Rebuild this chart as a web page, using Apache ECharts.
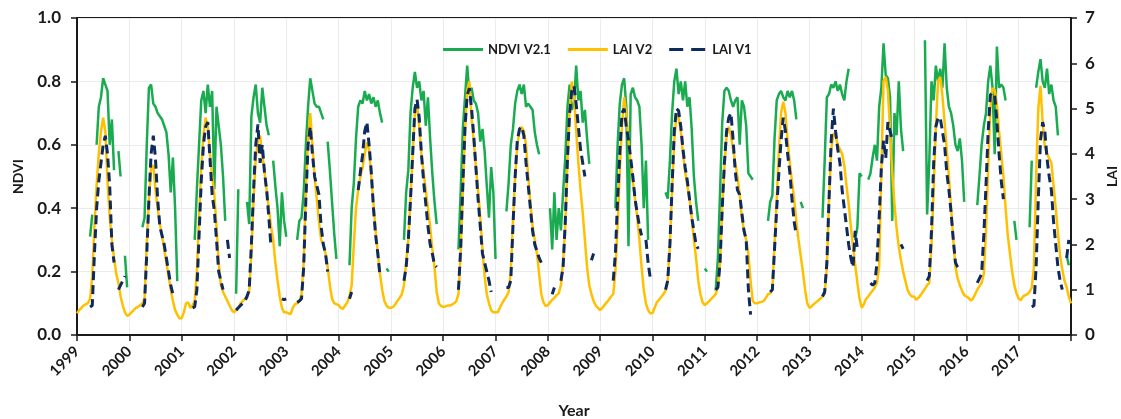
<!DOCTYPE html>
<html>
<head>
<meta charset="utf-8">
<title>NDVI and LAI time series, 1999–2017</title>
<script src="https://cdn.jsdelivr.net/npm/echarts@6/dist/echarts.min.js"></script>
<style>
  html, body { margin: 0; padding: 0; background: #ffffff; }
  #chart { width: 1121px; height: 419px; }
</style>
</head>
<body>
<div id="chart"></div>
<script>
// Semi-monthly samples (24 per year); null marks a missing retrieval.
const _ = null;
const years = [1999, 2000, 2001, 2002, 2003, 2004, 2005, 2006, 2007, 2008,
               2009, 2010, 2011, 2012, 2013, 2014, 2015, 2016, 2017];
const stepsPerYear = 24;

// NDVI V2.1 (left axis)
const ndviV21 = [
  [_,_,_,_,_,_,0.31,0.38,_,0.60,0.72,0.75,0.81,0.79,0.77,0.60,0.68,0.52,_,0.58,0.50,_,0.25,0.15],
  [_,_,_,_,_,_,0.34,0.37,0.60,0.78,0.79,0.73,0.72,0.70,0.69,0.68,0.66,0.64,0.57,0.45,0.56,0.40,0.17,_],
  [_,_,_,_,_,_,0.30,0.46,0.60,0.74,0.77,0.70,0.79,0.72,0.77,0.46,0.72,0.66,0.60,0.50,0.36,_,_,_],
  [_,0.13,0.46,_,_,_,0.42,0.35,0.69,0.75,0.79,0.70,0.67,0.78,0.72,0.66,0.63,_,0.55,0.47,0.40,0.28,0.45,0.36],
  [0.31,_,_,_,_,0.30,0.36,0.37,0.45,0.60,0.72,0.81,0.77,0.73,0.72,0.72,0.70,0.68,_,0.61,0.52,0.42,0.32,0.24],
  [_,_,_,_,_,0.22,0.40,0.48,0.62,0.72,0.74,0.73,0.77,0.74,0.76,0.73,0.75,0.72,0.74,0.70,0.67,_,0.21,0.20],
  [_,_,_,_,_,_,0.30,0.45,0.52,0.70,0.78,0.83,0.78,0.80,0.74,0.77,0.66,0.75,0.62,0.51,0.42,0.35,_,_],
  [_,_,_,_,_,_,_,0.27,0.45,0.65,0.75,0.85,0.76,0.78,0.74,0.73,0.70,0.61,0.65,0.58,0.47,0.37,0.53,0.45],
  [0.24,_,_,_,_,0.39,0.48,0.60,0.65,0.73,0.77,0.79,0.76,0.79,0.72,0.73,0.72,0.71,0.64,0.60,0.57,_,_,_],
  [_,0.40,0.27,0.45,0.30,0.40,0.33,0.45,0.56,0.72,0.79,0.71,0.73,0.85,0.74,0.77,0.67,0.71,0.62,0.54,_,_,_,_],
  [_,_,_,_,_,_,_,0.40,0.60,0.73,0.79,0.81,0.72,0.28,0.76,0.78,0.75,0.74,0.72,0.60,0.40,0.55,0.30,_],
  [_,_,_,_,_,_,0.45,0.43,0.55,0.70,0.80,0.84,0.76,0.80,0.74,0.80,0.72,0.75,0.65,0.50,0.42,0.36,_,_],
  [0.21,0.20,_,_,_,0.14,0.24,0.45,0.67,0.77,0.78,0.77,0.74,0.72,0.74,0.75,0.60,0.74,0.72,0.66,0.51,0.50,0.49,_],
  [_,_,_,_,_,0.36,0.42,0.44,0.62,0.74,0.76,0.77,0.75,0.74,0.77,0.75,0.77,0.74,0.68,_,0.42,0.40,_,_],
  [_,_,_,_,_,_,0.37,0.55,0.75,0.76,0.79,0.78,0.80,0.77,0.79,0.76,0.74,0.80,0.84,_,_,0.30,0.34,0.51],
  [0.50,_,_,0.49,0.51,0.56,0.60,0.55,0.72,0.78,0.92,0.82,0.81,0.75,0.36,0.70,0.63,0.80,0.65,0.58,_,_,_,_],
  [_,_,_,_,_,0.93,0.38,0.55,0.80,0.74,0.85,0.80,0.84,0.78,0.92,0.78,0.72,0.70,0.66,0.60,0.58,0.62,0.55,0.42],
  [_,_,_,_,_,0.41,0.50,0.60,0.66,0.70,0.80,0.85,0.78,0.57,0.91,0.78,0.79,0.78,0.74,_,_,_,0.36,0.30],
  [_,_,_,_,_,0.34,0.55,_,0.78,0.83,0.87,0.80,0.78,0.84,0.76,0.79,0.74,0.72,0.63,_,_,_,0.25,0.22]
];
const ndviV21End = _;

// LAI V2 (right axis)
const laiV2 = [
  [0.48,0.55,0.6,0.65,0.68,0.7,0.8,1.3,2.4,3.3,4.0,4.5,4.8,4.5,3.4,2.6,2.1,1.7,1.35,1.15,0.85,0.65,0.5,0.42],
  [0.45,0.5,0.55,0.6,0.62,0.66,0.7,0.8,2.0,3.0,3.7,3.75,3.2,2.8,2.45,2.2,1.9,1.6,1.3,1.0,0.75,0.55,0.45,0.37],
  [0.37,0.5,0.7,0.72,0.6,0.65,0.75,1.4,2.6,3.7,4.4,4.8,4.6,4.0,3.5,3.1,2.4,1.6,1.1,0.95,0.85,0.75,0.65,0.55],
  [0.5,0.55,0.6,0.7,0.75,0.8,0.85,0.95,1.8,3.0,3.9,4.3,4.4,4.0,3.6,3.2,2.8,2.4,2.1,1.6,1.2,0.85,0.6,0.5],
  [0.5,0.48,0.46,0.6,0.68,0.7,0.75,0.9,1.6,3.2,4.3,4.9,4.2,3.5,3.0,2.5,2.1,2.0,1.8,1.5,1.1,0.8,0.7,0.68],
  [0.66,0.6,0.58,0.65,0.72,0.85,1.1,2.0,2.8,3.2,3.5,3.7,4.0,4.25,4.1,3.5,2.9,2.3,1.8,1.35,1.0,0.75,0.65,0.6],
  [0.6,0.62,0.68,0.75,0.82,0.9,1.1,1.6,2.1,3.0,4.0,4.9,5.1,4.6,4.0,3.6,3.2,2.8,2.4,1.9,1.5,0.95,0.7,0.64],
  [0.62,0.63,0.65,0.65,0.67,0.7,0.75,0.9,1.8,3.2,4.5,5.4,5.6,4.8,4.3,3.7,3.2,2.6,1.9,1.3,0.9,0.7,0.55,0.5],
  [0.5,0.5,0.6,0.7,0.78,0.85,0.95,1.4,2.5,3.5,4.2,4.5,4.6,4.5,4.2,3.5,2.9,2.4,2.1,1.8,1.35,0.9,0.72,0.64],
  [0.66,0.72,0.78,0.82,0.88,0.92,1.1,1.6,2.4,3.8,5.0,5.6,5.3,4.5,3.8,3.2,2.7,2.1,1.5,1.1,0.9,0.75,0.65,0.6],
  [0.55,0.6,0.66,0.72,0.78,0.85,0.9,1.4,2.4,3.6,4.6,5.25,4.9,4.3,3.8,3.4,3.0,2.6,2.1,1.5,1.0,0.7,0.55,0.48],
  [0.48,0.6,0.72,0.78,0.84,0.9,0.98,1.2,2.0,3.2,4.3,4.85,4.8,4.5,4.0,3.6,3.3,3.0,2.6,2.1,1.7,1.2,0.9,0.72],
  [0.66,0.7,0.75,0.8,0.85,0.9,1.05,1.6,2.8,3.7,4.4,4.6,4.4,4.1,3.8,3.5,3.1,2.6,2.3,2.1,1.8,1.2,0.75,0.7],
  [0.7,0.72,0.73,0.75,0.82,0.9,0.92,1.0,2.0,3.0,4.1,4.9,5.15,4.9,4.3,3.8,3.4,3.0,2.5,2.1,1.75,1.4,1.0,0.7],
  [0.6,0.63,0.68,0.72,0.76,0.8,0.85,0.92,1.5,3.0,4.1,4.45,4.4,4.2,4.1,4.0,3.75,3.3,2.9,2.4,1.95,1.55,1.15,0.8],
  [0.6,0.68,0.8,0.85,0.92,0.98,1.05,1.15,1.5,3.6,5.6,5.7,5.4,4.5,3.6,2.9,2.35,1.95,1.65,1.4,1.2,1.0,0.9,0.85],
  [0.85,0.78,0.82,0.88,0.95,1.02,1.1,1.15,2.0,3.2,4.6,5.6,5.7,5.3,4.7,4.1,3.5,2.8,2.1,1.5,1.25,1.1,0.98,0.88],
  [0.85,0.82,0.76,0.8,0.9,1.0,1.08,1.15,1.35,2.3,3.7,5.0,5.45,5.4,5.1,4.5,4.0,3.5,2.8,2.2,1.8,1.4,1.1,0.92],
  [0.8,0.77,0.85,0.88,0.9,0.95,1.05,1.5,3.5,5.0,5.5,4.7,4.15,4.0,3.9,3.8,3.3,2.8,2.25,1.75,1.45,1.2,1.05,0.85]
];
const laiV2End = 0.7;

// LAI V1 (right axis)
const laiV1 = [
  [_,_,_,_,_,_,0.62,0.65,1.8,2.8,3.4,3.8,4.2,4.4,4.0,3.3,2.0,1.6,_,1.0,1.1,1.2,1.3,_],
  [_,_,_,_,_,_,0.62,0.7,1.8,3.0,4.0,4.4,3.9,3.0,2.4,2.2,2.0,1.7,1.4,1.1,0.9,_,_,_],
  [_,_,_,_,_,0.6,0.62,1.0,2.2,3.4,4.2,4.6,4.7,3.9,3.1,2.75,2.1,1.4,1.2,1.0,_,2.1,1.7,_],
  [_,0.55,0.6,0.65,0.7,0.75,0.85,1.0,2.0,3.2,4.2,4.65,3.8,4.2,3.6,3.2,2.6,1.95,_,_,_,_,0.8,0.78],
  [0.8,_,_,_,_,0.72,0.75,0.8,1.5,3.0,4.2,4.6,4.0,3.5,3.3,3.1,2.4,2.0,1.8,1.4,_,_,_,_],
  [_,_,_,_,_,0.8,0.95,_,_,3.2,3.6,3.97,4.5,4.7,4.2,3.6,2.8,2.2,1.8,1.3,_,_,_,_],
  [_,_,_,_,_,_,1.2,1.5,2.1,3.0,4.0,5.0,5.2,4.8,4.0,3.4,2.9,2.4,2.0,1.8,1.55,1.5,_,_],
  [_,_,_,_,_,_,_,1.0,1.9,3.3,4.6,5.3,5.45,5.0,4.4,3.7,3.0,2.4,1.8,1.6,1.4,1.2,0.95,_],
  [_,_,_,_,_,1.05,1.05,1.2,2.4,3.5,4.3,4.55,4.6,4.4,3.8,3.3,2.8,2.3,2.0,1.85,1.7,1.6,_,_],
  [_,_,0.9,1.05,_,_,1.2,1.5,2.5,3.9,4.9,5.4,5.5,5.1,4.6,4.1,3.8,3.5,_,_,1.65,1.8,_,_],
  [_,_,_,_,_,_,1.2,1.8,3.0,4.0,4.9,5.0,4.6,4.3,3.9,3.5,3.0,2.7,2.4,2.2,_,2.1,1.6,1.25],
  [_,_,_,_,_,_,1.0,1.2,2.0,3.3,4.5,5.0,4.95,4.6,4.1,3.7,3.4,3.0,2.6,2.3,2.0,1.9,_,_],
  [_,_,_,_,_,1.0,1.05,1.6,2.8,3.8,4.5,4.8,4.9,4.3,3.6,3.2,3.1,2.7,2.3,2.1,1.0,0.45,_,_],
  [_,_,_,_,_,_,0.95,1.0,1.9,2.8,3.6,4.3,4.8,4.5,4.0,3.6,3.0,2.5,2.2,_,_,_,_,_],
  [_,_,_,_,_,_,0.85,0.95,1.6,3.0,4.3,5.0,4.5,4.1,3.8,3.2,2.8,2.4,2.0,1.7,1.5,2.3,1.9,_],
  [_,_,_,_,1.15,1.1,1.15,1.6,2.6,3.7,4.3,3.9,4.7,4.5,4.3,_,_,_,2.0,1.9,_,_,_,_],
  [_,_,_,_,_,_,1.2,1.3,2.3,3.8,4.6,4.8,4.8,4.5,4.2,3.6,3.2,2.7,2.1,1.6,1.5,1.45,_,_],
  [_,_,_,_,_,1.15,1.25,1.35,2.2,3.3,4.5,5.3,5.35,5.3,4.7,4.0,3.4,3.0,_,_,_,_,_,_],
  [_,_,_,_,_,_,0.62,0.65,1.5,3.0,4.3,4.7,4.5,3.9,3.5,3.2,2.5,2.0,1.5,1.2,1.0,_,1.7,2.1]
];
const laiV1End = _;

// Turn the per-year rows into [decimal year, value] pairs.
function toPoints(rows, endValue) {
  const pts = [];
  rows.forEach(function (row, yi) {
    row.forEach(function (v, k) {
      pts.push([years[yi] + k / stepsPerYear, v]);
    });
  });
  pts.push([years[years.length - 1] + 1, endValue]);
  return pts;
}

const textColor = '#1a1a1a';
const fontFamily = 'Lato, "Open Sans", "DejaVu Sans", sans-serif';
const gridColor = '#ebebeb';
const ndviColor = '#1aab50';
const laiV2Color = '#ffc000';
const laiV1Color = '#0e2a5e';

// Legend keys: a solid bar for the solid lines, two short bars for the dashed one.
const solidKey = 'path://M0,0H40V3H0Z';
const dashedKey = 'path://M0,0H14V3H0Z M22,0H36V3H22Z';

const chart = echarts.init(document.getElementById('chart'), null, { renderer: 'canvas' });

chart.setOption({
  animation: false,
  backgroundColor: '#ffffff',
  textStyle: { fontFamily: fontFamily, color: textColor },
  grid: {
    left: 77, right: 50, top: 18, bottom: 84,
    outerBoundsMode: 'none', containLabel: false,
    show: true, borderColor: textColor, borderWidth: 2, backgroundColor: 'transparent'
  },
  legend: {
    left: 438, top: 38,
    itemWidth: 40, itemHeight: 3, itemGap: 17,
    textStyle: { fontFamily: fontFamily, fontWeight: 'bold', fontSize: 13, color: textColor },
    data: [
      { name: 'NDVI V2.1', icon: solidKey, itemStyle: { color: ndviColor } },
      { name: 'LAI V2', icon: solidKey, itemStyle: { color: laiV2Color } },
      { name: 'LAI V1', icon: dashedKey, itemStyle: { color: laiV1Color } }
    ]
  },
  xAxis: {
    type: 'value',
    min: 1999, max: 2018, interval: 1,
    name: 'Year', nameLocation: 'middle', nameGap: 68,
    nameTextStyle: { fontFamily: fontFamily, fontWeight: 'bold', fontSize: 16, color: textColor },
    axisLine: { show: true, lineStyle: { color: textColor, width: 2 } },
    axisTick: { show: true, length: 6, lineStyle: { color: textColor, width: 1.5 } },
    axisLabel: {
      rotate: 45, margin: 14,
      fontFamily: fontFamily, fontWeight: 'bold', fontSize: 15, color: textColor,
      formatter: function (v) { return v < 2018 ? String(v) : ''; }
    },
    splitLine: { show: true, lineStyle: { color: gridColor, width: 1 } }
  },
  yAxis: [
    {
      type: 'value', min: 0, max: 1, interval: 0.2,
      name: 'NDVI', nameLocation: 'middle', nameGap: 52, nameRotate: 90,
      nameTextStyle: { fontFamily: fontFamily, fontWeight: 'bold', fontSize: 14, color: textColor },
      axisLine: { show: true, lineStyle: { color: textColor, width: 2 } },
      axisTick: { show: true, length: 6, lineStyle: { color: textColor, width: 1.5 } },
      axisLabel: {
        margin: 16, fontFamily: fontFamily, fontWeight: 'bold', fontSize: 17, color: textColor,
        formatter: function (v) { return v.toFixed(1); }
      },
      splitLine: { show: true, lineStyle: { color: gridColor, width: 1 } }
    },
    {
      type: 'value', min: 0, max: 7, interval: 1, position: 'right',
      name: 'LAI', nameLocation: 'middle', nameGap: 34, nameRotate: 90,
      nameTextStyle: { fontFamily: fontFamily, fontWeight: 'bold', fontSize: 14, color: textColor },
      axisLine: { show: true, lineStyle: { color: textColor, width: 2 } },
      axisTick: { show: true, length: 6, lineStyle: { color: textColor, width: 1.5 } },
      axisLabel: {
        margin: 14, fontFamily: fontFamily, fontWeight: 'bold', fontSize: 17, color: textColor
      },
      splitLine: { show: false }
    }
  ],
  series: [
    {
      name: 'NDVI V2.1', type: 'line', yAxisIndex: 0,
      symbol: 'none', connectNulls: false,
      lineStyle: { color: ndviColor, width: 2.5 },
      itemStyle: { color: ndviColor },
      data: toPoints(ndviV21, ndviV21End), z: 2
    },
    {
      name: 'LAI V2', type: 'line', yAxisIndex: 1,
      symbol: 'none', connectNulls: false,
      lineStyle: { color: laiV2Color, width: 2.5 },
      itemStyle: { color: laiV2Color },
      data: toPoints(laiV2, laiV2End), z: 3
    },
    {
      name: 'LAI V1', type: 'line', yAxisIndex: 1,
      symbol: 'none', connectNulls: false,
      lineStyle: { color: laiV1Color, width: 3, type: [9, 5] },
      itemStyle: { color: laiV1Color },
      data: toPoints(laiV1, laiV1End), z: 4
    }
  ]
});
</script>
</body>
</html>
